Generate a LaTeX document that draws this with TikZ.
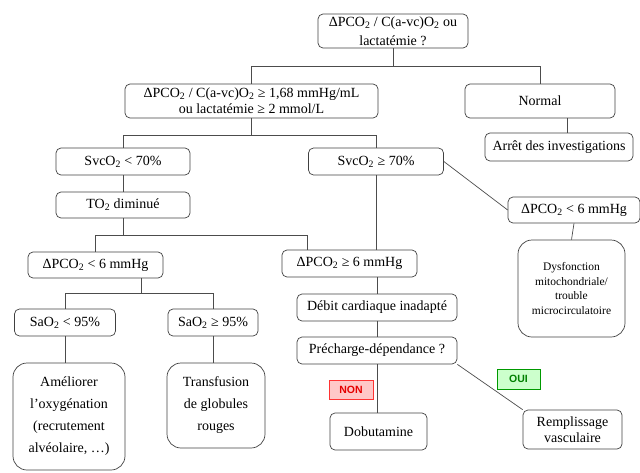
\documentclass[tikz,border=0pt]{standalone}
\usepackage{fontspec}
\setmainfont{Liberation Serif}
\newfontfamily\tagfont{Liberation Sans}

\begin{document}
\begin{tikzpicture}[x=1pt,y=-1pt,
  box/.style={draw=black!75,line width=0.7pt,rounded corners=5pt,align=center,
    inner sep=1pt,font=\fontsize{14}{16}\selectfont},
  bigbox/.style={box,rounded corners=14pt},
  link/.style={draw=black!70,line width=0.7pt},
  tagno/.style={draw=red!80,fill=red!22,text=red!90!black,inner sep=0pt,
    font=\tagfont\bfseries\fontsize{10.5}{12}\selectfont,minimum width=44pt,minimum height=19pt},
  tagyes/.style={draw=green!60!black,fill=green!20,text=green!50!black,inner sep=0pt,
    font=\tagfont\bfseries\fontsize{10.5}{12}\selectfont,minimum width=43pt,minimum height=20pt}]
  \useasboundingbox (0,0) rectangle (640,472);

  % top of the tree
  \node[box,minimum width=150pt,minimum height=34pt] (quest) at (393,31)
    {ΔPCO\textsubscript{2} / C(a-vc)O\textsubscript{2} ou\\[3pt]lactatémie ?};
  \node[box,minimum width=253pt,minimum height=34pt] (crit) at (251.5,101)
    {ΔPCO\textsubscript{2} / C(a-vc)O\textsubscript{2} ≥ 1,68 mmHg/mL\\ou lactatémie ≥ 2 mmol/L};
  \node[box,minimum width=150pt,minimum height=34pt] (normal) at (540,101) {Normal};
  \node[box,minimum width=148pt,minimum height=28pt] (arret) at (559,147) {Arrêt des investigations};

  % SvcO2 branches
  \node[box,minimum width=134pt,minimum height=27pt] (svclow) at (123,161.5) {SvcO\textsubscript{2} < 70\%};
  \node[box,minimum width=134pt,minimum height=26pt] (tolow) at (123,205) {TO\textsubscript{2} diminué};
  \node[box,minimum width=135pt,minimum height=27pt] (svchigh) at (376,161.5) {SvcO\textsubscript{2} ≥ 70\%};
  \node[box,minimum width=132pt,minimum height=26pt] (gapright) at (574,210) {ΔPCO\textsubscript{2} < 6 mmHg};
  \node[bigbox,minimum width=107pt,minimum height=97pt,font=\fontsize{11.5}{14.5}\selectfont] (dysf) at (571.5,288.5)
    {Dysfonction\\mitochondriale/\\trouble\\microcirculatoire};

  % left part
  \node[box,minimum width=135pt,minimum height=26pt] (gaplow) at (95.5,265) {ΔPCO\textsubscript{2} < 6 mmHg};
  \node[box,minimum width=101pt,minimum height=27pt] (salow) at (65,322.5) {SaO\textsubscript{2} < 95\%};
  \node[box,minimum width=90pt,minimum height=27pt] (sahigh) at (213,322.5) {SaO\textsubscript{2} ≥ 95\%};
  \node[bigbox,minimum width=112pt,minimum height=107pt,font=\fontsize{14}{22}\selectfont] (oxy) at (69,416.5)
    {Améliorer\\l’oxygénation\\(recrutement\\alvéolaire, …)};
  \node[bigbox,minimum width=98pt,minimum height=85pt,font=\fontsize{14}{22}\selectfont] (transf) at (216,405.5)
    {Transfusion\\de globules\\rouges};

  % middle part
  \node[box,minimum width=135pt,minimum height=27pt] (gaphigh) at (349.5,263.5) {ΔPCO\textsubscript{2} ≥ 6 mmHg};
  \node[box,minimum width=160pt,minimum height=27pt] (debit) at (377,307.5) {Débit cardiaque inadapté};
  \node[box,minimum width=160pt,minimum height=27pt] (prech) at (377,350.5) {Précharge-dépendance ?};
  \node[box,minimum width=97pt,minimum height=37pt] (dobu) at (378.5,431.5) {Dobutamine};
  \node[box,minimum width=99pt,minimum height=39pt] (rempl) at (572.5,429.5) {Remplissage\\vasculaire};
  \node[tagno] (non) at (351,389.5) {NON};
  \node[tagyes] (oui) at (518.5,379) {OUI};

  % connectors
  \draw[link] (quest.south) -- ++(0,19);
  \draw[link] (crit.north) -- ++(0,-17) -| (normal.north);
  \draw[link] ([xshift=8pt]arret.north) -- ([xshift=8pt]arret.north |- normal.south);
  \path (crit.south) ++(0,17) coordinate (split2);
  \draw[link] (crit.south) -- (split2);
  \draw[link] (svclow.north) |- (split2) -| (svchigh.north);
  \draw[link] (svclow.south) -- (tolow.north);
  \path (tolow.south) ++(0,17) coordinate (split3);
  \draw[link] (tolow.south) -- (split3);
  \draw[link] (gaplow.north) |- (split3) -| ([xshift=-42pt]gaphigh.north);
  \draw[link] (svchigh.south) -- (svchigh.south |- gaphigh.north);
  \draw[link] (svchigh.east) -- (gapright.west);
  \draw[link] (gapright.south) -- (dysf.north);
  \path ([xshift=46pt]gaplow.south) ++(0,15) coordinate (split4);
  \draw[link] ([xshift=46pt]gaplow.south) -- (split4);
  \draw[link] (salow.north) |- (split4) -| (sahigh.north);
  \draw[link] (salow.south) -- (salow.south |- oxy.north);
  \draw[link] (sahigh.south) -- (sahigh.south |- transf.north);
  \draw[link] (debit.north) -- (debit.north |- gaphigh.south);
  \draw[link] (debit.south) -- (prech.north);
  \draw[link] (prech.south) -- (prech.south |- dobu.north);
  \draw[link] (prech.south east) -- (rempl.north west);
\end{tikzpicture}
\end{document}
